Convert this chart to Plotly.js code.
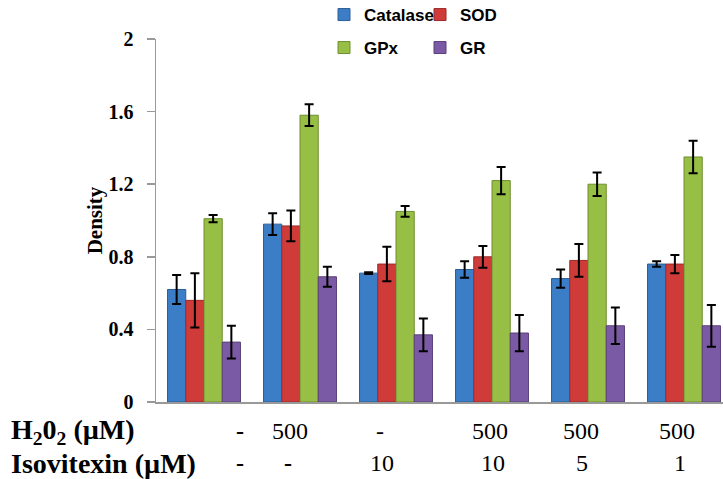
<!DOCTYPE html>
<html>
<head>
<meta charset="utf-8">
<script src="https://cdn.plot.ly/plotly-3.0.1.min.js"></script>
<style>html,body{margin:0;padding:0;background:#fff;}#chart{width:723px;height:479px;}</style>
</head>
<body>
<div id="chart"></div>
<script>
// ---- data ----
var categories = ['1', '2', '3', '4', '5', '6'];
var seriesNames = ['Catalase', 'SOD', 'GPx', 'GR'];
var catalase    = [0.62, 0.98, 0.71, 0.73, 0.68, 0.76];
var catalaseErr = [0.08, 0.06, 0.005, 0.045, 0.05, 0.015];
var sod         = [0.56, 0.97, 0.76, 0.80, 0.78, 0.76];
var sodErr      = [0.15, 0.085, 0.095, 0.06, 0.09, 0.05];
var gpx         = [1.01, 1.58, 1.05, 1.22, 1.20, 1.35];
var gpxErr      = [0.02, 0.06, 0.03, 0.075, 0.065, 0.09];
var gr          = [0.33, 0.69, 0.37, 0.38, 0.42, 0.42];
var grErr       = [0.09, 0.055, 0.09, 0.1, 0.1, 0.115];
var h2o2Labels  = ['-', '500', '-', '500', '500', '500'];
var isoLabels   = ['-', '-', '10', '10', '5', '1'];
var rowTitles   = ['<b>H<sub>2</sub>0<sub>2</sub> (\u00b5M)</b>', '<b>Isovitexin (\u00b5M)</b>'];
var yTitle = 'Density';

// ---- styling ----
var colors = ['#3B7DC6', '#CE3B39', '#97BF45', '#7B5AA5'];
var lineColors = ['#2C5E96', '#9A2B2A', '#6F8E31', '#5A4179'];
var values = [catalase, sod, gpx, gr];
var errs = [catalaseErr, sodErr, gpxErr, grErr];
var legendIds = ['legend', 'legend2', 'legend3', 'legend4'];

var traces = seriesNames.map(function (name, i) {
  return {
    type: 'bar', name: name, x: categories, y: values[i],
    marker: {color: colors[i], line: {color: lineColors[i], width: 1}},
    error_y: {type: 'data', array: errs[i], visible: true, color: '#000', thickness: 2, width: 4.5},
    legend: legendIds[i], showlegend: true
  };
});

var L = 156, T = 39, W = 567, H = 363;
function px2x(px) { return (px - L) / W; }
function py2y(py) { return (T + H - py) / H; }

var legendFont = {family: 'Liberation Sans, Arial, sans-serif', size: 17, weight: 'bold', color: '#000'};
var legendPos = [[324, 15], [420, 15], [324, 48], [420, 48]];
function mkLegend(i) {
  return {x: px2x(legendPos[i][0]), y: py2y(legendPos[i][1]), xanchor: 'left', yanchor: 'middle',
    font: legendFont, bgcolor: 'rgba(0,0,0,0)', borderwidth: 0, itemwidth: 30};
}

var h2o2Pos = [240, 290, 380, 490, 581, 677];
var isoPos  = [240, 288, 382, 493, 582, 680];
var boldDash = [[true, false, false, false, false, false], [true, true, false, false, false, false]];
var rowY = [431, 463];
var serif = 'Liberation Serif, Times New Roman, serif';
var titleFont = {family: serif, size: 28, color: '#000'};
var numFont = {family: serif, size: 24, color: '#000'};
var annotations = [];
rowTitles.forEach(function (t, r) {
  annotations.push({text: t, xref: 'paper', yref: 'paper', x: px2x(9), y: py2y(rowY[r]),
    xanchor: 'left', yanchor: 'middle', showarrow: false, font: titleFont});
});
[h2o2Labels, isoLabels].forEach(function (row, r) {
  var pos = r === 0 ? h2o2Pos : isoPos;
  row.forEach(function (t, i) {
    annotations.push({text: t, xref: 'paper', yref: 'paper', x: px2x(pos[i]), y: py2y(rowY[r]),
      xanchor: 'center', yanchor: 'middle', showarrow: false,
      font: boldDash[r][i] ? Object.assign({}, numFont, {weight: 'bold'}) : numFont});
  });
});

var layout = {
  width: 723, height: 479,
  margin: {l: L, r: 0, t: T, b: 479 - T - H, autoexpand: false},
  paper_bgcolor: '#fff', plot_bgcolor: '#fff',
  barmode: 'group', bargap: 0.24, bargroupgap: 0,
  xaxis: {type: 'category', range: [-0.5, -0.5 + W / 96], showticklabels: false, ticks: '',
    showgrid: false, zeroline: false, showline: true, linecolor: '#999', linewidth: 1.5, fixedrange: true},
  yaxis: {range: [0, 2], dtick: 0.4, tick0: 0, ticks: 'outside', ticklen: 8, tickcolor: '#999', tickwidth: 1.5,
    ticklabelstandoff: 9,
    showline: true, linecolor: '#999', linewidth: 1.5, showgrid: false, zeroline: false,
    tickfont: {family: serif, size: 20, weight: 'bold', color: '#000'},
    title: {text: yTitle, standoff: 0, font: {family: serif, size: 21, weight: 'bold', color: '#000'}}},
  legend: mkLegend(0), legend2: mkLegend(1), legend3: mkLegend(2), legend4: mkLegend(3),
  annotations: annotations,
  showlegend: true
};

Plotly.newPlot('chart', traces, layout, {displayModeBar: false, staticPlot: true});
</script>
</body>
</html>
